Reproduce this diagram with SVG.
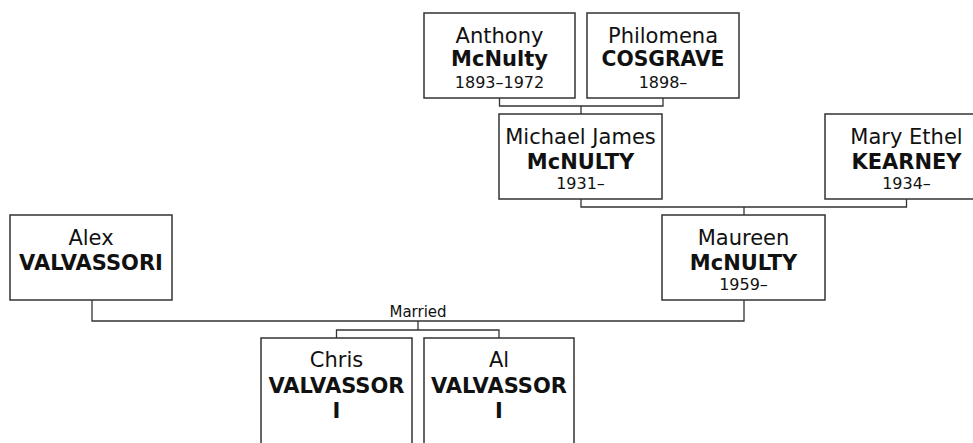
<svg xmlns="http://www.w3.org/2000/svg" width="973" height="443" viewBox="0 0 973 443">
<style>
  .box { fill: #ffffff; stroke: #333333; stroke-width: 1.5; }
  .link { fill: none; stroke: #333333; stroke-width: 1.3; }
  text { font-family: "DejaVu Sans", Verdana, sans-serif; fill: #111111; text-anchor: middle; }
  .given { font-size: 21px; }
  .sur { font-size: 21px; font-weight: bold; }
  .date { font-size: 16px; }
  .lbl { font-size: 15px; }
</style>
<rect x="0" y="0" width="973" height="443" fill="#ffffff"/>
<g id="connectors">
  <polyline class="link" points="499.5,98 499.5,106 663,106 663,98"/>
  <line class="link" x1="581" y1="106" x2="581" y2="114"/>
  <polyline class="link" points="581,199 581,207 906.5,207 906.5,199"/>
  <line class="link" x1="744" y1="207" x2="744" y2="215"/>
  <polyline class="link" points="92,300 92,321 744,321 744,300"/>
  <line class="link" x1="418" y1="321" x2="418" y2="330"/>
  <polyline class="link" points="336.5,338 336.5,330 499,330 499,338"/>
  <text class="lbl" x="418" y="317">Married</text>
</g>
<g id="anthony">
  <rect class="box" x="424" y="13" width="151" height="85"/>
  <text class="given" x="499.5" y="43">Anthony</text>
  <text class="sur" x="499.5" y="66">McNulty</text>
  <text class="date" x="499.5" y="88">1893–1972</text>
</g>
<g id="philomena">
  <rect class="box" x="587" y="13" width="152" height="85"/>
  <text class="given" x="663" y="43">Philomena</text>
  <text class="sur" x="663" y="66" textLength="123" lengthAdjust="spacingAndGlyphs">COSGRAVE</text>
  <text class="date" x="663" y="88">1898–</text>
</g>
<g id="michael">
  <rect class="box" x="499" y="114" width="163" height="85"/>
  <text class="given" x="580.5" y="144">Michael James</text>
  <text class="sur" x="580.5" y="169">McNULTY</text>
  <text class="date" x="580.5" y="189">1931–</text>
</g>
<g id="mary">
  <rect class="box" x="825" y="114" width="163" height="85"/>
  <text class="given" x="906.5" y="144">Mary Ethel</text>
  <text class="sur" x="906.5" y="169">KEARNEY</text>
  <text class="date" x="906.5" y="189">1934–</text>
</g>
<g id="maureen">
  <rect class="box" x="662" y="215" width="163" height="85"/>
  <text class="given" x="743.5" y="245">Maureen</text>
  <text class="sur" x="743.5" y="270">McNULTY</text>
  <text class="date" x="743.5" y="290">1959–</text>
</g>
<g id="alex">
  <rect class="box" x="10" y="215" width="162" height="85"/>
  <text class="given" x="91" y="245">Alex</text>
  <text class="sur" x="91" y="270">VALVASSORI</text>
</g>
<g id="chris">
  <rect class="box" x="261" y="338" width="151" height="120"/>
  <text class="given" x="336.5" y="367">Chris</text>
  <text class="sur" x="336.5" y="393">VALVASSOR</text>
  <text class="sur" x="336.5" y="418">I</text>
</g>
<g id="al">
  <rect class="box" x="424" y="338" width="150" height="120"/>
  <text class="given" x="499" y="367">Al</text>
  <text class="sur" x="499" y="393">VALVASSOR</text>
  <text class="sur" x="499" y="418">I</text>
</g>
</svg>
